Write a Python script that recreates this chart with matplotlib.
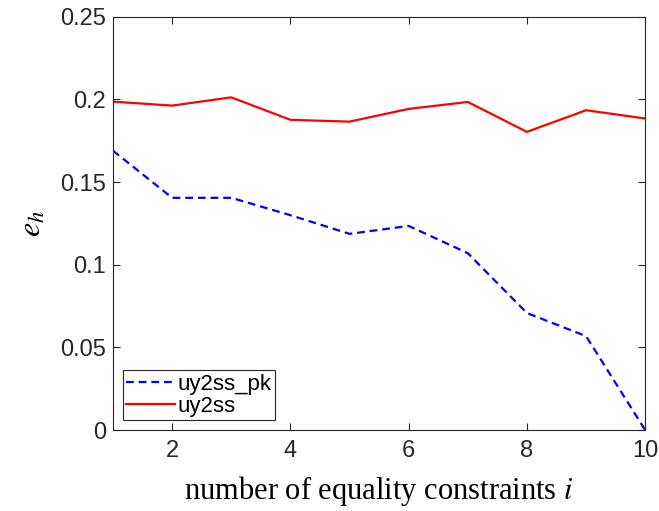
import numpy as np
import matplotlib
matplotlib.use("Agg")
from matplotlib import pyplot as plt

plt.rcParams['font.family'] = ['Liberation Sans', 'DejaVu Sans']
plt.rcParams['mathtext.fontset'] = 'stix'

# data
x = np.arange(1, 11)
uy2ss_pk = [0.169, 0.1405, 0.1405, 0.130, 0.1187, 0.1235, 0.107, 0.0708, 0.0568, 0.0]
uy2ss = [0.1987, 0.1963, 0.2013, 0.1877, 0.1866, 0.1943, 0.1985, 0.1804, 0.1935, 0.1885]

fig = plt.figure(figsize=(6.59, 5.11), dpi=100)
ax = fig.add_axes([0.1715, 0.1585, 0.8075, 0.8085])

ax.plot(x, uy2ss_pk, '--', color='#0000ff', lw=1.6, dashes=(3.5, 2.2), label='uy2ss_pk')
ax.plot(x, uy2ss, '-', color='#ff0000', lw=1.6, label='uy2ss')

ax.set_xlim(1, 10)
ax.set_ylim(0, 0.25)
ax.set_xticks([2, 4, 6, 8, 10])
ax.set_yticks([0, 0.05, 0.1, 0.15, 0.2, 0.25])
ax.set_yticklabels(['0', '0.05', '0.1', '0.15', '0.2', '0.25'])
ax.tick_params(direction='in', top=True, right=True, length=5, width=0.8,
               labelsize=17, colors='#262626', pad=7)
ax.tick_params(axis='y', pad=5)
for s in ax.spines.values():
    s.set_color('#262626')
    s.set_linewidth(0.8)

ax.set_xlabel('number of equality constraints $i$', family=['Liberation Serif'], fontsize=22,
              math_fontfamily='stix', labelpad=9)
ax.set_ylabel('$e_h$', fontsize=23, labelpad=9)

leg = ax.legend(loc='lower left', fontsize=16, fancybox=False, framealpha=1,
                edgecolor='#262626', borderpad=0.15, labelspacing=0.05,
                handlelength=2.2, handletextpad=0.1, borderaxespad=0.45)
leg.get_frame().set_linewidth(0.8)

fig.savefig('out.png', dpi=100)
